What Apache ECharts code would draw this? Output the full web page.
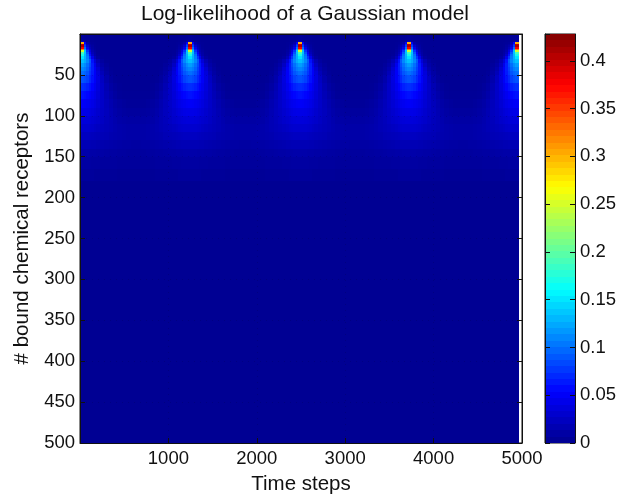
<!DOCTYPE html>
<html>
<head>
<meta charset="utf-8">
<script src="https://cdn.jsdelivr.net/npm/echarts@6/dist/echarts.min.js"></script>
<style>
html, body { margin: 0; background: #fff; }
#chart { width: 630px; height: 497px; filter: blur(0.5px); }
</style>
</head>
<body>
<div id="chart"></div>
<script>
// time step of each bright cone top, and where the image stops
const peakSteps = [23, 1244, 2489, 3722, 4943];
const lastStep = 4965;
const maxValue = 0.428;

// cell edges of one cone: distance from its peak (time steps) and receptor rows
const offsetEdges = [0, 25, 50, 75, 100, 130, 160, 200, 250, 300, 350, 400, 450, 500, 550, 620];
const rowEdges = [0, 8, 10, 12, 14, 16, 18, 20, 22, 24, 27, 30, 35, 40, 45, 50, 60, 70, 80, 90, 100, 110, 120, 130, 140, 150, 165, 180, 500];

// values, one line per row band, one column per offset band
const coneValues = [
    [.006, .005, .004, .004, .004, .003, .003, .003, .003, .003, .003, .003, .003, .003, .003],
    [.020, .008, .005, .004, .004, .003, .003, .003, .003, .003, .003, .003, .003, .003, .003],
    [.300, .050, .012, .006, .005, .004, .003, .003, .003, .003, .003, .003, .003, .003, .003],
    [.400, .070, .020, .010, .006, .004, .003, .003, .003, .003, .003, .003, .003, .003, .003],
    [.410, .080, .030, .014, .008, .004, .003, .003, .003, .003, .003, .003, .003, .003, .003],
    [.380, .100, .045, .020, .010, .005, .003, .003, .003, .003, .003, .003, .003, .003, .003],
    [.320, .120, .060, .028, .012, .006, .003, .003, .003, .003, .003, .003, .003, .003, .003],
    [.250, .135, .075, .038, .016, .008, .004, .003, .003, .003, .003, .003, .003, .003, .003],
    [.190, .135, .088, .050, .020, .010, .004, .003, .003, .003, .003, .003, .003, .003, .003],
    [.170, .130, .100, .060, .028, .012, .005, .003, .003, .003, .003, .003, .003, .003, .003],
    [.150, .128, .105, .075, .045, .020, .008, .004, .003, .003, .003, .003, .003, .003, .003],
    [.135, .125, .110, .090, .060, .035, .018, .008, .004, .003, .003, .003, .003, .003, .003],
    [.120, .112, .100, .085, .065, .045, .025, .012, .006, .003, .003, .003, .003, .003, .003],
    [.110, .105, .095, .080, .065, .050, .032, .016, .008, .004, .003, .003, .003, .003, .003],
    [.100, .095, .088, .076, .064, .050, .036, .020, .010, .005, .003, .003, .003, .003, .003],
    [.088, .085, .080, .070, .060, .050, .038, .025, .014, .007, .004, .003, .003, .003, .003],
    [.072, .070, .066, .060, .054, .046, .037, .027, .017, .010, .006, .004, .003, .003, .003],
    [.060, .058, .055, .052, .047, .042, .035, .027, .019, .013, .008, .005, .004, .004, .004],
    [.050, .049, .047, .045, .042, .038, .033, .027, .021, .016, .011, .008, .006, .005, .005],
    [.042, .042, .041, .039, .037, .034, .030, .026, .022, .017, .013, .010, .008, .007, .007],
    [.036, .036, .035, .034, .032, .030, .028, .025, .021, .018, .015, .012, .011, .010, .010],
    [.030, .030, .030, .029, .028, .026, .024, .022, .020, .018, .016, .014, .013, .012, .012],
    [.024, .024, .024, .023, .022, .021, .020, .019, .018, .016, .015, .014, .013, .012, .012],
    [.018, .018, .018, .018, .017, .017, .016, .015, .014, .013, .012, .011, .010, .010, .009],
    [.013, .013, .013, .012, .012, .012, .011, .011, .010, .009, .009, .008, .008, .007, .007],
    [.009, .009, .009, .009, .008, .008, .008, .007, .007, .007, .007, .006, .006, .006, .006],
    [.006, .006, .006, .006, .006, .005, .005, .005, .005, .005, .005, .004, .004, .004, .004],
    [.002, .002, .002, .002, .002, .002, .002, .002, .002, .002, .002, .002, .002, .002, .002]
];

const jetStops = ['#00008f', '#0000ff', '#0080ff', '#00ffff', '#80ff80', '#ffff00', '#ff8000', '#ff0000', '#800000'];
const barSteps = 64;

// [t0, t1, r0, r1, value] for each cell, cones are cut at the midpoint to their neighbour
function buildCells() {
    const cells = [];
    peakSteps.forEach((peak, p) => {
        const from = p === 0 ? 0 : (peakSteps[p - 1] + peak) / 2;
        const to = p === peakSteps.length - 1 ? lastStep : (peak + peakSteps[p + 1]) / 2;
        coneValues.forEach((line, r) => {
            line.forEach((v, c) => {
                const a = offsetEdges[c], b = offsetEdges[c + 1];
                const left = [Math.max(from, peak - b), Math.max(from, peak - a)];
                const right = [Math.min(to, peak + a), Math.min(to, peak + b)];
                if (left[1] > left[0]) cells.push([left[0], left[1], rowEdges[r], rowEdges[r + 1], v]);
                if (right[1] > right[0]) cells.push([right[0], right[1], rowEdges[r], rowEdges[r + 1], v]);
            });
        });
    });
    return cells;
}

// colour bar bands
function buildBar() {
    const bands = [];
    for (let i = 0; i < barSteps; i++) {
        const lo = i * maxValue / barSteps, hi = (i + 1) * maxValue / barSteps;
        bands.push([0, 1, lo, hi, (lo + hi) / 2]);
    }
    return bands;
}

function renderCell(params, api) {
    const p0 = api.coord([api.value(0), api.value(2)]);
    const p1 = api.coord([api.value(1), api.value(3)]);
    const x = Math.round(Math.min(p0[0], p1[0])), x2 = Math.round(Math.max(p0[0], p1[0]));
    const y = Math.round(Math.min(p0[1], p1[1])), y2 = Math.round(Math.max(p0[1], p1[1]));
    return {
        type: 'rect',
        shape: { x: x, y: y, width: x2 - x, height: y2 - y },
        style: { fill: api.visual('color') }
    };
}

const font = 'Liberation Sans, Arial, sans-serif';
const ink = '#111';
const frame = { show: true, onZero: false, lineStyle: { color: ink, width: 1 } };
const dots = { show: true, lineStyle: { color: 'rgba(0,0,0,0.12)', type: [1, 5], width: 1 } };
const tickIn = { show: true, inside: true, length: 5, lineStyle: { color: ink } };
const label = { color: ink, fontFamily: font, fontSize: 18.5, margin: 6, formatter: v => String(v) };
const sideLabel = Object.assign({}, label, { margin: 5, padding: [3, 0, 0, 0] });
const barLabel = v => String(Number(v.toFixed(2)));

const option = {
    animation: false,
    backgroundColor: '#fff',
    title: {
        text: 'Log-likelihood of a Gaussian model',
        left: 300, top: -1, textAlign: 'center',
        textStyle: { color: ink, fontFamily: font, fontSize: 21, fontWeight: 'normal' }
    },
    grid: [
        { left: 80, top: 34, width: 442, height: 409, show: true, borderColor: ink, outerBoundsMode: 'none' },
        { left: 545, top: 34, width: 30, height: 409, show: true, borderColor: ink, outerBoundsMode: 'none' }
    ],
    visualMap: {
        show: false, type: 'continuous', min: 0, max: maxValue, dimension: 4,
        seriesIndex: [0, 1], inRange: { color: jetStops }
    },
    xAxis: [
        {
            gridIndex: 0, type: 'value', min: 0, max: 5000, interval: 1000, z: 5,
            name: 'Time steps', nameLocation: 'middle', nameGap: 31,
            nameTextStyle: { color: ink, fontFamily: font, fontSize: 20.5 },
            axisLine: frame, axisTick: tickIn, splitLine: dots,
            axisLabel: Object.assign({}, label, { showMinLabel: false, showMaxLabel: true })
        },
        {
            gridIndex: 0, type: 'value', position: 'top', min: 0, max: 5000, interval: 1000, z: 5,
            axisLine: frame, axisTick: tickIn, axisLabel: { show: false }, splitLine: { show: false }
        },
        { gridIndex: 1, type: 'value', min: 0, max: 1, show: false }
    ],
    yAxis: [
        {
            gridIndex: 0, type: 'value', inverse: true, min: 0, max: 500, interval: 50, z: 5,
            name: '# bound chemical receptors', nameLocation: 'middle', nameGap: 45,
            nameTextStyle: { color: ink, fontFamily: font, fontSize: 20.5 },
            axisLine: frame, axisTick: tickIn, splitLine: dots,
            axisLabel: Object.assign({}, sideLabel, { showMinLabel: false })
        },
        {
            gridIndex: 0, type: 'value', position: 'right', inverse: true, min: 0, max: 500, interval: 50, z: 5,
            axisLine: frame, axisTick: tickIn, axisLabel: { show: false }, splitLine: { show: false }
        },
        {
            gridIndex: 1, type: 'value', position: 'right', min: 0, max: maxValue, interval: 0.05, z: 5,
            axisLine: frame, axisTick: tickIn, splitLine: { show: false },
            axisLabel: Object.assign({}, sideLabel, { showMaxLabel: false, formatter: barLabel })
        },
        {
            gridIndex: 1, type: 'value', position: 'left', min: 0, max: maxValue, interval: 0.05, z: 5,
            axisLine: frame, axisTick: tickIn, axisLabel: { show: false }, splitLine: { show: false }
        }
    ],
    series: [
        {
            type: 'custom', xAxisIndex: 0, yAxisIndex: 0, data: buildCells(),
            encode: { x: [0, 1], y: [2, 3] }, renderItem: renderCell, silent: true, clip: true
        },
        {
            type: 'custom', xAxisIndex: 2, yAxisIndex: 2, data: buildBar(),
            encode: { x: [0, 1], y: [2, 3] }, renderItem: renderCell, silent: true
        }
    ]
};

const myChart = echarts.init(document.getElementById('chart'), null, { renderer: 'canvas' });
myChart.setOption(option);
window.addEventListener('resize', () => myChart.resize());
</script>
</body>
</html>
